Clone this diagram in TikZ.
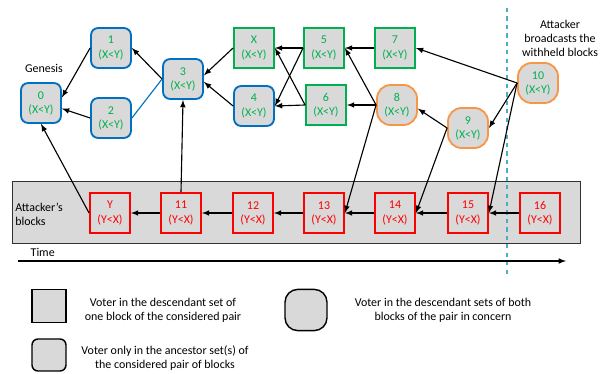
\documentclass[tikz,border=0pt]{standalone}
\usepackage{fontspec}
\setmainfont{Carlito}
\usetikzlibrary{arrows}
\definecolor{vgreen}{RGB}{0,176,80}
\definecolor{vblue}{RGB}{0,112,192}
\definecolor{vorange}{RGB}{247,150,70}
\definecolor{vred}{RGB}{255,0,0}
\definecolor{vgray}{RGB}{217,217,217}
\definecolor{vcyan}{RGB}{75,172,198}
\begin{document}
\begin{tikzpicture}[x=0.025cm,y=-0.025cm,font=\fontsize{8.5}{10}\selectfont]
	\tikzstyle{sharp} = [-latex, line width=0.8pt]
	\tikzstyle{blk} = [rectangle, fill=vgray, minimum width=1cm, minimum height=1cm, inner sep=1pt, align=center, text=vgreen, line width=1.3pt]
	\tikzstyle{ancestor} = [blk, draw=vblue, rounded corners=0.18cm]
	\tikzstyle{desc} = [blk, draw=vgreen]
	\tikzstyle{both} = [blk, draw=vorange, rounded corners=0.34cm]
	\tikzstyle{attack} = [blk, draw=vred, text=vred]
	\useasboundingbox (0,0) rectangle (602,373);
	\node (abox) [draw=black!80, fill=vgray, minimum width=14.2cm, minimum height=1.55cm, line width=0.6pt] at (296,212) {};
	\node (n0) [ancestor] at (41,103) {0\\(X<Y)};
	\node (n1) [ancestor] at (111,48) {1\\(X<Y)};
	\node (n2) [ancestor] at (111,118) {2\\(X<Y)};
	\node (n3) [ancestor] at (183,79) {3\\(X<Y)};
	\node (nX) [desc] at (254,48) {X\\(X<Y)};
	\node (n4) [ancestor] at (254,106) {4\\(X<Y)};
	\node (n5) [desc] at (324,48) {5\\(X<Y)};
	\node (n6) [desc] at (326,105) {6\\(X<Y)};
	\node (n7) [desc] at (395,48) {7\\(X<Y)};
	\node (n8) [both] at (397,105) {8\\(X<Y)};
	\node (n9) [both] at (468,128) {9\\(X<Y)};
	\node (n10) [both] at (538,83) {10\\(X<Y)};
	\node (nY) [attack] at (110,213) {Y\\(Y<X)};
	\node (n11) [attack] at (181,213) {11\\(Y<X)};
	\node (n12) [attack] at (253,213) {12\\(Y<X)};
	\node (n13) [attack] at (324,213) {13\\(Y<X)};
	\node (n14) [attack] at (395,213) {14\\(Y<X)};
	\node (n15) [attack] at (468,213) {15\\(Y<X)};
	\node (n16) [attack] at (540,213) {16\\(Y<X)};
	\node (genesis) at (44,68) {Genesis};
	\node (ablocks) [anchor=west, align=left, inner sep=0pt] at (15,214) {Attacker’s\\blocks};
	\node (bcast) [align=center] at (560,38) {Attacker\\broadcasts the\\withheld blocks};
	\coordinate (dtop) at (507,8);
	\coordinate (dbot) at (507,276);
	\draw[vcyan, dashed, line width=0.8pt] (dtop) -- (dbot);
	\coordinate (tstart) at (18,261);
	\coordinate (tend) at (566,261);
	\draw[sharp] (tstart) -- (tend);
	\node (time) [anchor=south west, inner sep=1pt] at (29,258) {Time};
	\draw[sharp] (n1.west) -- (n0.15);
	\draw[sharp] (n2.west) -- (n0.-15);
	\draw[sharp] (n3.west) -- (n1.east);
	\draw[vblue, line width=0.8pt] (n3.west) -- (n2.east);
	\draw[sharp] (nX.west) -- (n3.10);
	\draw[sharp] (n4.west) -- (n3.-8);
	\draw[sharp] (n5.west) -- (nX.east);
	\draw[sharp] (n5.west) -- (n4.east);
	\draw[sharp] (n6.west) -- (nX.east);
	\draw[sharp] (n6.west) -- (n4.east);
	\draw[sharp] (n7.west) -- (n5.east);
	\draw[sharp] (n8.west) -- (n5.east);
	\draw[sharp] (n8.west) -- (n6.east);
	\draw[sharp] (n8.west) -- (n13.east);
	\draw[sharp] (n9.west) -- (n8.-10);
	\draw[sharp] (n9.west) -- (n14.east);
	\draw[sharp] (n10.west) -- (n7.east);
	\draw[sharp] (n10.west) -- (n9.east);
	\draw[sharp] (n10.west) -- (n15.east);
	\draw[sharp] (n11.north) -- (n3.south);
	\draw[sharp] (nY.west) -- (n0.south);
	\draw[sharp] (n12.west) -- (n11.east);
	\draw[sharp] (n11.west) -- (nY.east);
	\draw[sharp] (n13.west) -- (n12.east);
	\draw[sharp] (n14.west) -- (n13.east);
	\draw[sharp] (n15.west) -- (n14.east);
	\draw[sharp] (n16.west) -- (n15.east);
	\node (lg1) [draw, fill=vgray, minimum width=0.85cm, minimum height=0.83cm, line width=1pt] at (49,306) {};
	\node (lg1t) [align=center] at (163,310) {Voter in the descendant set of\\one block of the considered pair};
	\node (lg2) [draw, fill=vgray, minimum width=1.05cm, minimum height=1.03cm, rounded corners=0.32cm, line width=1pt] at (306,310) {};
	\node (lg2t) [align=center] at (443,310) {Voter in the descendant sets of both\\blocks of the pair in concern};
	\node (lg3) [draw, fill=vgray, minimum width=0.85cm, minimum height=0.8cm, rounded corners=0.15cm, line width=1pt] at (49,355) {};
	\node (lg3t) [align=center] at (165,358) {Voter only in the ancestor set(s) of\\the considered pair of blocks};
\end{tikzpicture}
\end{document}
